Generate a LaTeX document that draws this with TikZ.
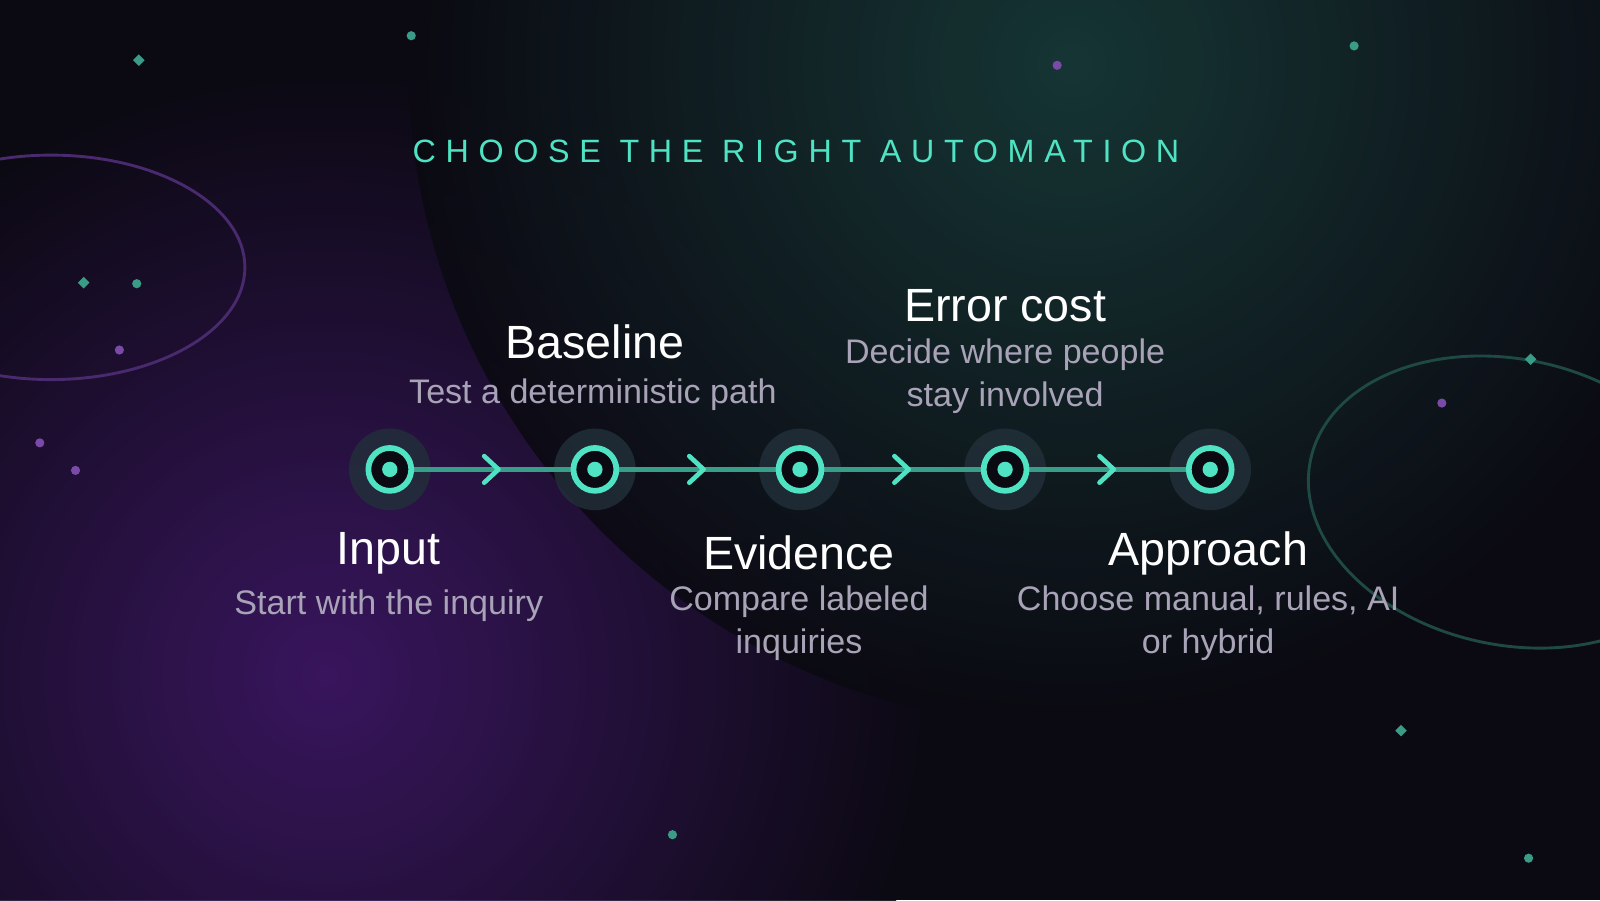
\documentclass[tikz,border=0pt]{standalone}
\usepackage{fontspec}
\setmainfont{Liberation Sans}
\usetikzlibrary{positioning,arrows.meta,calc}
\definecolor{bgdark}{HTML}{0B0A12}
\definecolor{glowpurple}{HTML}{3E1766}
\definecolor{glowteal}{HTML}{173A38}
\definecolor{mint}{HTML}{4FE3C4}
\definecolor{halo}{HTML}{22303A}
\definecolor{subgrey}{HTML}{A9A3B8}
\definecolor{ringpurple}{HTML}{4A2A6E}
\definecolor{ringteal}{HTML}{1F4A44}
\definecolor{dotpurple}{HTML}{7A4AA8}
\definecolor{dotteal}{HTML}{3A9C86}
\tikzset{
  stepnode/.style={circle,draw=mint,line width=1.6pt,fill=bgdark,minimum size=0.42cm,inner sep=0pt},
  halo/.style={circle,fill=halo,fill opacity=0.8,minimum size=0.8cm,inner sep=0pt},
  head/.style={text=white,font=\fontsize{13pt}{15pt}\selectfont},
  sub/.style={text=subgrey,font=\fontsize{9.5pt}{12pt}\selectfont,align=center},
  chev/.style={draw=mint,line width=1.3pt,line cap=round,line join=round},
  link/.style={draw=mint!70!black,line width=1.3pt},
}
\begin{document}
\begin{tikzpicture}
\useasboundingbox (0,0) rectangle (15.68,8.82);
\fill[bgdark] (0,0) rectangle (15.68,8.82);
% glows
\begin{scope}
\clip (0,0) rectangle (15.68,8.82);
\shade[inner color=glowpurple,outer color=bgdark,opacity=0.9] (3.2,2.2) circle (6);
\shade[inner color=glowteal,outer color=bgdark,opacity=0.9] (10.5,8.2) circle (6.5);
\draw[ringpurple,line width=0.8pt] (0.5,6.2) ellipse (1.9 and 1.1);
\draw[ringteal,line width=0.8pt,rotate around={-12:(14.8,3.9)}] (14.8,3.9) ellipse (2.0 and 1.4);
\end{scope}
% sparkles
\foreach \x/\y/\c in {4.03/8.47/dotteal,1.34/6.04/dotteal,10.36/8.18/dotpurple,13.27/8.37/dotteal,
  1.17/5.39/dotpurple,0.39/4.48/dotpurple,0.74/4.21/dotpurple,14.13/4.87/dotpurple,
  6.59/0.64/dotteal,14.98/0.41/dotteal}
  \fill[\c] (\x,\y) circle (0.045);
\foreach \x/\y in {1.36/8.23,0.82/6.05,15.0/5.3,13.73/1.66}
  \fill[dotteal,rotate around={45:(\x,\y)}] (\x-0.04,\y-0.04) rectangle (\x+0.04,\y+0.04);
% title
\node (title) at (7.8,7.34) {\fontsize{9pt}{11pt}\addfontfeatures{LetterSpace=30}\color{mint}CHOOSE THE RIGHT AUTOMATION};
% steps
\foreach \n/\x in {s1/3.82,s2/5.83,s3/7.84,s4/9.85,s5/11.86}{
  \node[halo] (h\n) at (\x,4.22) {};
}
\path[link] (hs1.center) -- (hs5.center);
\foreach \n/\x in {s1/3.82,s2/5.83,s3/7.84,s4/9.85,s5/11.86}{
  \node[stepnode] (\n) at (\x,4.22) {};
  \fill[mint] (\n) circle (0.075);
}
\foreach \a/\b in {s1/s2,s2/s3,s3/s4,s4/s5}{
  \coordinate (m) at ($(\a)!0.5!(\b)$);
  \draw[chev] ([shift={(-0.08,0.13)}]m) -- ([shift={(0.06,0)}]m) -- ([shift={(-0.08,-0.13)}]m);
}
% labels
\node[head] (baseline) at (5.83,5.47) {Baseline};
\node[sub] at (5.81,4.95) {Test a deterministic path};
\node[head] (errcost) at (9.85,5.82) {Error cost};
\node[sub] at (9.85,5.13) {Decide where people\\stay involved};
\node[head] (input) at (3.81,3.40) {Input};
\node[sub] at (3.81,2.88) {Start with the inquiry};
\node[head] (evidence) at (7.83,3.40) {Evidence};
\node[sub] at (7.83,2.71) {Compare labeled\\inquiries};
\node[head] (approach) at (11.84,3.40) {Approach};
\node[sub] at (11.84,2.71) {Choose manual, rules, AI\\or hybrid};
\end{tikzpicture}
\end{document}
